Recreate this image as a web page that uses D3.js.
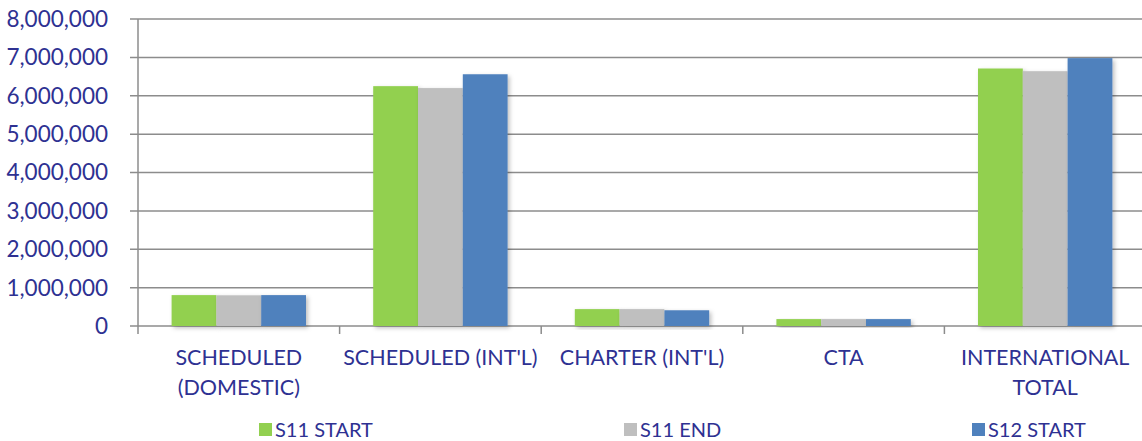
<!DOCTYPE html>
<html>
<head>
<meta charset="utf-8">
<script src="https://cdn.jsdelivr.net/npm/d3@7"></script>
<style>
  body { margin: 0; background: #fff; }
  text { font-family: Lato, "Open Sans", sans-serif; fill: #2e3192; }
</style>
</head>
<body>
<svg id="chart" width="1142" height="441"></svg>
<script>
// categories, one label line per array entry
let categories = [
  ["SCHEDULED", "(DOMESTIC)"],
  ["SCHEDULED (INT'L)"],
  ["CHARTER (INT'L)"],
  ["CTA"],
  ["INTERNATIONAL", "TOTAL"]
];
let seriesNames = ['S11 START', 'S11 END', 'S12 START'];
let s11Start = [805000, 6250000, 440000, 180000, 6710000];
let s11End   = [800000, 6200000, 440000, 180000, 6640000];
let s12Start = [805000, 6560000, 410000, 180000, 6980000];
let yTicks = [0, 1000000, 2000000, 3000000, 4000000, 5000000, 6000000, 7000000, 8000000];

let colors = ['#92d050', '#bfbfbf', '#4f81bd'];
let seriesValues = [s11Start, s11End, s12Start];

let margin = {left: 138, right: -4, top: 19, bottom: 115};
let width = 1142, height = 441;

let svg = d3.select('#chart');

let defs = svg.append('defs');
defs.append('filter')
    .attr('id', 'shadow')
    .attr('x', '-10%').attr('y', '-10%')
    .attr('width', '130%').attr('height', '130%')
  .append('feDropShadow')
    .attr('dx', 2).attr('dy', 2)
    .attr('stdDeviation', 2)
    .attr('flood-color', '#000')
    .attr('flood-opacity', 0.25);

let x = d3.scaleBand()
  .domain(d3.range(categories.length))
  .range([margin.left, width - margin.right])
  .paddingInner(0)
  .paddingOuter(0);

let x1 = d3.scaleBand()
  .domain(d3.range(seriesNames.length))
  .range([0, x.bandwidth()])
  .paddingOuter(0.75)
  .paddingInner(0);

let y = d3.scaleLinear()
  .domain([0, 8000000])
  .range([height - margin.bottom, margin.top]);

// gridlines
svg.append('g')
  .attr('class', 'grid')
  .selectAll('line')
  .data(yTicks)
  .enter()
  .append('line')
  .attr('x1', margin.left - 8)
  .attr('x2', width)
  .attr('y1', d => y(d))
  .attr('y2', d => y(d))
  .style('stroke', '#8c8c8c')
  .style('stroke-width', '1.5px');

// y labels
svg.append('g')
  .selectAll('text')
  .data(yTicks)
  .enter()
  .append('text')
  .attr('x', margin.left - 30)
  .attr('y', d => y(d))
  .attr('dy', '0.35em')
  .style('text-anchor', 'end')
  .style('font-size', '22.5px')
  .text(d => d3.format(',')(d));

// left axis line
svg.append('line')
  .attr('x1', margin.left).attr('x2', margin.left)
  .attr('y1', y(8000000)).attr('y2', y(0) + 8)
  .style('stroke', '#8c8c8c')
  .style('stroke-width', '1.5px');

// category ticks
svg.append('g')
  .selectAll('line')
  .data(d3.range(1, categories.length))
  .enter()
  .append('line')
  .attr('x1', d => x(d)).attr('x2', d => x(d))
  .attr('y1', y(0)).attr('y2', y(0) + 8)
  .style('stroke', '#8c8c8c')
  .style('stroke-width', '1.5px');

// bars
let groups = svg.append('g')
  .selectAll('g.cat')
  .data(categories)
  .enter()
  .append('g')
  .attr('class', 'cat')
  .attr('transform', (d, i) => `translate(${x(i)},0)`);

groups.selectAll('rect')
  .data((d, i) => seriesValues.map((s, j) => ({s: j, v: s[i]})))
  .enter()
  .append('rect')
  .attr('x', d => x1(d.s))
  .attr('width', x1.bandwidth())
  .attr('y', d => y(d.v))
  .attr('height', d => y(0) - y(d.v))
  .style('fill', d => colors[d.s])
  .attr('filter', 'url(#shadow)');

// category labels
groups.append('text')
  .attr('x', x.bandwidth() / 2)
  .attr('y', y(0) + 39)
  .style('text-anchor', 'middle')
  .style('font-size', '21.5px')
  .selectAll('tspan')
  .data(d => d)
  .enter()
  .append('tspan')
  .attr('x', x.bandwidth() / 2)
  .attr('dy', (d, i) => i == 0 ? 0 : 30)
  .text(d => d);

// legend
let legendX = [259, 624, 972];
let legend = svg.append('g')
  .selectAll('g.legend')
  .data(seriesNames)
  .enter()
  .append('g')
  .attr('class', 'legend')
  .attr('transform', (d, i) => `translate(${legendX[i]}, 422)`);

legend.append('rect')
  .attr('width', 13).attr('height', 13)
  .attr('y', 1)
  .style('fill', (d, i) => colors[i]);

legend.append('text')
  .attr('x', 16)
  .attr('y', 14.5)
  .style('font-size', '20px')
  .text(d => d);
</script>
</body>
</html>
